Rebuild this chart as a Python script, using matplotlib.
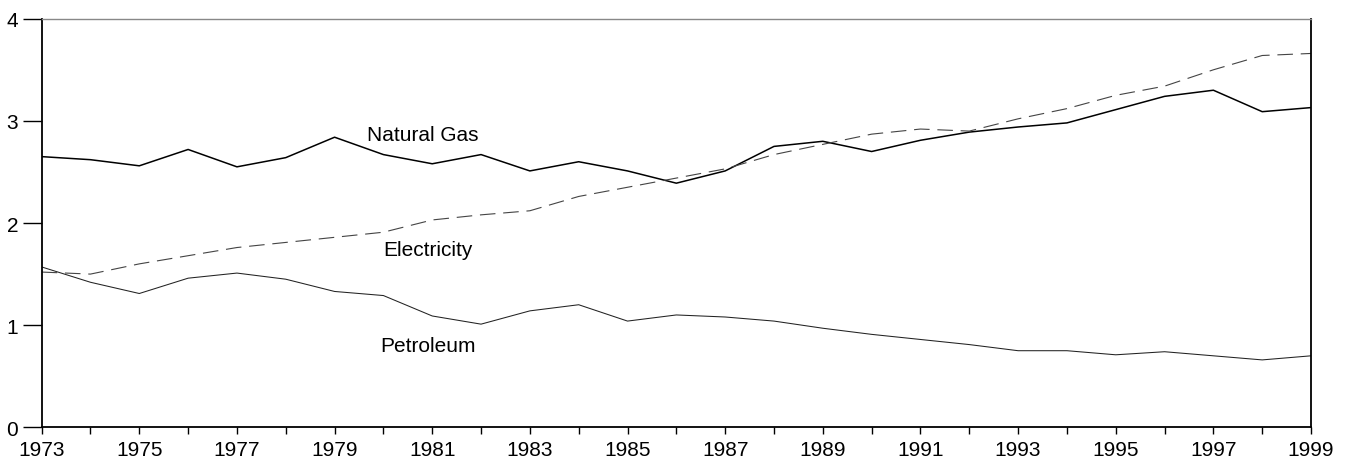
import matplotlib.pyplot as plt
import numpy as np

plt.rcParams["font.family"] = ["Liberation Sans", "DejaVu Sans"]

years = np.arange(1973, 2000)

natural_gas = [2.65, 2.62, 2.56, 2.72, 2.55, 2.64, 2.84, 2.67, 2.58,
               2.67, 2.51, 2.60, 2.51, 2.39, 2.51, 2.75, 2.80, 2.70,
               2.81, 2.89, 2.94, 2.98, 3.11, 3.24, 3.30, 3.09, 3.13]
electricity = [1.52, 1.50, 1.60, 1.68, 1.76, 1.81, 1.86, 1.91, 2.03,
               2.08, 2.12, 2.26, 2.35, 2.44, 2.53, 2.67, 2.77, 2.87,
               2.92, 2.90, 3.02, 3.12, 3.25, 3.34, 3.50, 3.64, 3.66]
petroleum = [1.57, 1.42, 1.31, 1.46, 1.51, 1.45, 1.33, 1.29, 1.09,
             1.01, 1.14, 1.20, 1.04, 1.10, 1.08, 1.04, 0.97, 0.91,
             0.86, 0.81, 0.75, 0.75, 0.71, 0.74, 0.70, 0.66, 0.70]

series_labels = ["Natural Gas", "Electricity", "Petroleum"]
label_pos = [(1979.66, 2.87), (1979.99, 1.74), (1979.93, 0.80)]

fig = plt.figure(figsize=(13.52, 4.64), dpi=100)
ax = fig.add_axes([0.0308, 0.0769, 0.9389, 0.8806])

ax.plot(years, natural_gas, color="black", lw=1.1)
ax.plot(years, electricity, color="#444444", lw=0.8, dashes=(14, 7))
ax.plot(years, petroleum, color="#222222", lw=0.75)

for text, (x, y) in zip(series_labels, label_pos):
    ax.text(x, y, text, fontsize=15, ha="left", va="center")

ax.set_xlim(1973, 1999)
ax.set_ylim(0, 4)
ax.set_xticks(years, minor=True)
ax.set_xticks(np.arange(1973, 2000, 2))
ax.set_yticks([0, 1, 2, 3, 4])
ax.tick_params(axis="x", which="both", length=5, width=1.0, labelsize=15, pad=4)
ax.tick_params(axis="y", length=14, width=1.0, labelsize=15, pad=3)

ax.spines["top"].set_color("#888888")
ax.spines["top"].set_linewidth(1.0)
for side in ["left", "right", "bottom"]:
    ax.spines[side].set_linewidth(1.3)

fig.savefig("out.png", dpi=100)
